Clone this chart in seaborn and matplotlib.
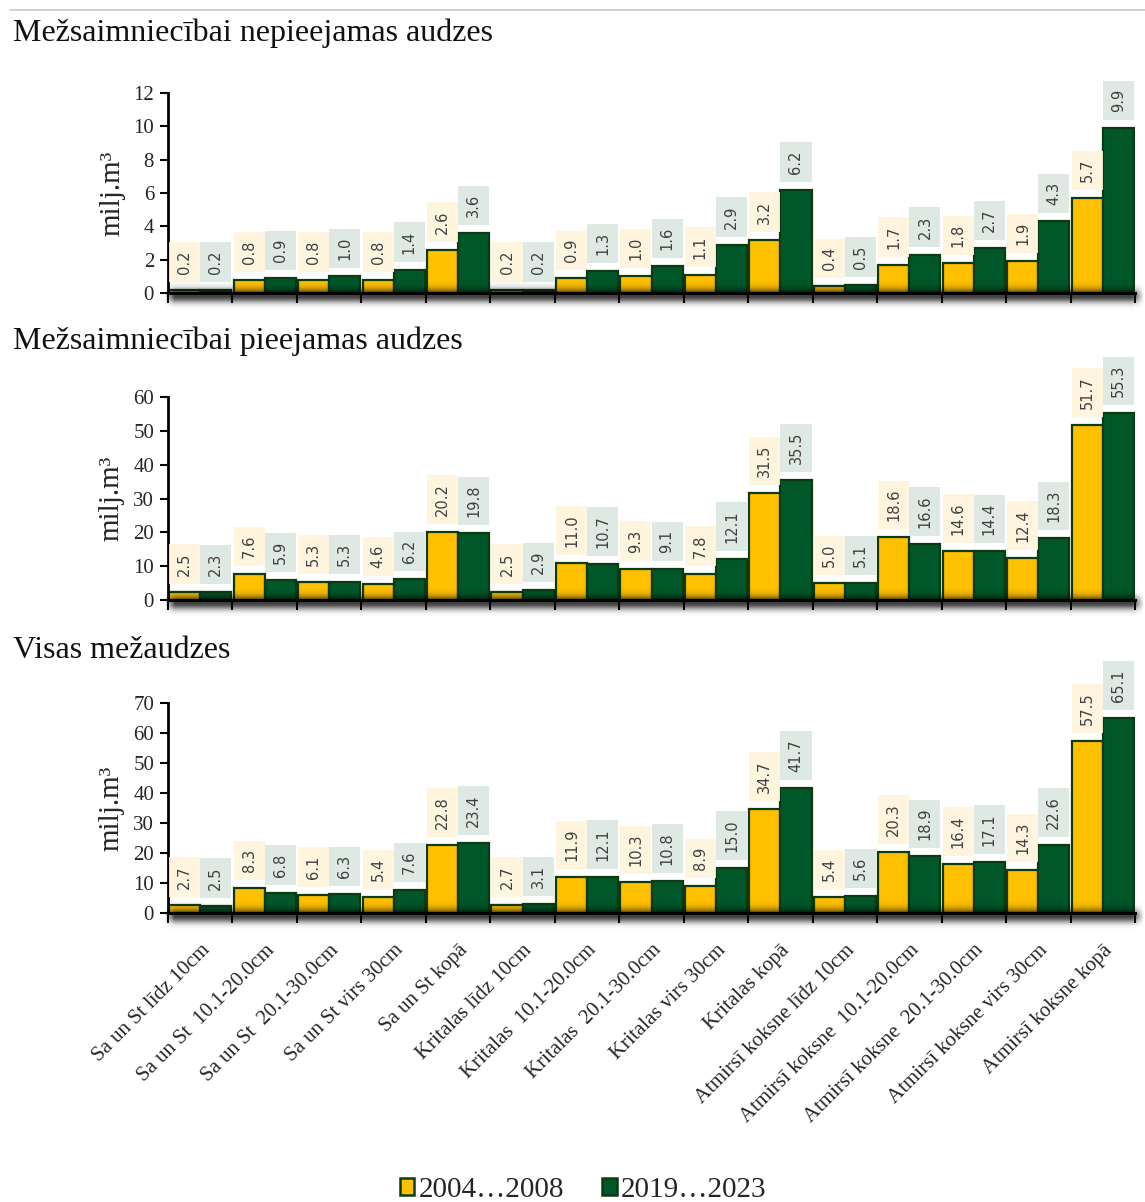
import numpy as np
import pandas as pd
import matplotlib
matplotlib.use("Agg")
import matplotlib.pyplot as plt
import seaborn as sns
from matplotlib.patches import Patch
from matplotlib.lines import Line2D

sns.set_theme(style="white")
plt.rcParams['font.family'] = ['Liberation Serif', 'DejaVu Serif']

categories = ["Sa un St līdz 10cm", "Sa un St  10.1-20.0cm", "Sa un St  20.1-30.0cm",
              "Sa un St virs 30cm", "Sa un St kopā", "Kritalas līdz 10cm",
              "Kritalas  10.1-20.0cm", "Kritalas  20.1-30.0cm", "Kritalas virs 30cm",
              "Kritalas kopā", "Atmirsī koksne līdz 10cm", "Atmirsī koksne  10.1-20.0cm",
              "Atmirsī koksne  20.1-30.0cm", "Atmirsī koksne virs 30cm", "Atmirsī koksne kopā"]
series_names = ["2004…2008", "2019…2023"]

titles = ["Mežsaimniecībai nepieejamas audzes",
          "Mežsaimniecībai pieejamas audzes",
          "Visas mežaudzes"]

nepieejamas_2004 = [0.2, 0.8, 0.8, 0.8, 2.6, 0.2, 0.9, 1.0, 1.1, 3.2, 0.4, 1.7, 1.8, 1.9, 5.7]
nepieejamas_2019 = [0.2, 0.9, 1.0, 1.4, 3.6, 0.2, 1.3, 1.6, 2.9, 6.2, 0.5, 2.3, 2.7, 4.3, 9.9]
pieejamas_2004 = [2.5, 7.6, 5.3, 4.6, 20.2, 2.5, 11.0, 9.3, 7.8, 31.5, 5.0, 18.6, 14.6, 12.4, 51.7]
pieejamas_2019 = [2.3, 5.9, 5.3, 6.2, 19.8, 2.9, 10.7, 9.1, 12.1, 35.5, 5.1, 16.6, 14.4, 18.3, 55.3]
visas_2004 = [2.7, 8.3, 6.1, 5.4, 22.8, 2.7, 11.9, 10.3, 8.9, 34.7, 5.4, 20.3, 16.4, 14.3, 57.5]
visas_2019 = [2.5, 6.8, 6.3, 7.6, 23.4, 3.1, 12.1, 10.8, 15.0, 41.7, 5.6, 18.9, 17.1, 22.6, 65.1]

ymax = [12, 60, 70]
ystep = [2, 10, 10]

panels = [(nepieejamas_2004, nepieejamas_2019),
          (pieejamas_2004, pieejamas_2019),
          (visas_2004, visas_2019)]

col_y = "#FFC000"
col_g = "#00572A"
edge = "#0E3A12"
box_y = "#FFF4DC"
box_g = "#DCE7E0"

W, H = 1145, 1202
fig = plt.figure(figsize=(W / 100, H / 100), dpi=100)

left_px, right_px = 168, 1135
tops = [93, 397, 703]
bottoms = [293, 600, 913]
title_y = [33, 341, 650]

fig.add_artist(Line2D([10 / W, 1.0], [1 - 10 / H, 1 - 10 / H], color="#C8C8C8", lw=1.2))

for i, (a, b) in enumerate(panels):
    ax = fig.add_axes([left_px / W, 1 - bottoms[i] / H,
                       (right_px - left_px) / W, (bottoms[i] - tops[i]) / H])
    df = pd.DataFrame({
        "cat": categories * 2,
        "series": [series_names[0]] * len(categories) + [series_names[1]] * len(categories),
        "val": list(a) + list(b),
    })
    sns.barplot(data=df, x="cat", y="val", hue="series", order=categories,
                hue_order=series_names, palette=[col_y, col_g], width=0.965,
                edgecolor=edge, linewidth=1.6, saturation=1, ax=ax, legend=False,
                errorbar=None, zorder=2)
    ax.set_xlim(-0.5, len(categories) - 0.5)
    ax.set_ylim(0, ymax[i])
    ax.set_yticks(np.arange(0, ymax[i] + 0.1, ystep[i]))
    ax.tick_params(axis="y", labelsize=15, length=6, width=1.5, color="black",
                   direction="out", pad=4, left=True)
    for s in ["top", "right"]:
        ax.spines[s].set_visible(False)
    ax.spines["left"].set_color("black")
    ax.spines["left"].set_linewidth(2)
    ax.spines["bottom"].set_color("black")
    ax.spines["bottom"].set_linewidth(2.2)
    ax.set_ylabel("milj.m³", fontsize=21, labelpad=6)
    ax.set_xlabel("")
    ax.grid(False)

    ax.set_xticks(np.arange(-0.5, len(categories), 1.0), minor=True)
    ax.tick_params(axis="x", which="minor", length=7, width=1.5, color="black",
                   direction="out", bottom=True)
    ax.tick_params(axis="x", which="major", length=0)
    ax.set_xticks(range(len(categories)))
    if i == 2:
        ax.set_xticklabels(categories, rotation=45, ha="right",
                           rotation_mode="anchor", fontsize=15)
        ax.tick_params(axis="x", which="major", pad=20)
    else:
        ax.set_xticklabels([])

    for cont, bc in zip(ax.containers, [box_y, box_g]):
        for rect in cont:
            h = rect.get_height()
            ax.annotate(f"{h:.1f}", (rect.get_x() + rect.get_width() / 2, h),
                        xytext=(0, 11.5), textcoords="offset points",
                        rotation=90, ha="center", va="bottom", fontsize=10.5,
                        color="#404040", family="DejaVu Sans", zorder=3,
                        bbox=dict(boxstyle="square,pad=0.55", fc=bc, ec="none", alpha=0.9),
                        annotation_clip=False)

    fig.text(13 / W, 1 - title_y[i] / H, titles[i], fontsize=23, ha="left",
             va="center", color="#111111")

    # soft shadow around / under the x axis
    sh_h = 34
    sax = fig.add_axes([(left_px - 4) / W, 1 - (bottoms[i] + 20) / H,
                        (W - left_px + 4) / W, sh_h / H], zorder=5)
    sax.set_axis_off()
    ny = sh_h * 2
    yy = np.linspace(1, -1, ny)[:, None]   # top (+1) to bottom (-1)
    xx = np.linspace(0, 1, 500)[None, :]
    # axis at about (20/34) from bottom -> y = 2*20/34-1
    y_axis = 2 * 20 / sh_h - 1
    d = yy - (y_axis - 0.18)
    prof = np.where(d > 0, np.exp(-(d / 0.42) ** 2), np.exp(-(d / 0.38) ** 2))
    xf = np.clip(xx / 0.01, 0, 1) * np.clip((1 - xx) / 0.012, 0, 1)
    alpha = 0.75 * prof * xf
    img = np.zeros((ny, 500, 4))
    img[..., 3] = alpha
    sax.imshow(img, aspect="auto", extent=(0, 1, 0, 1), interpolation="bilinear")

handles = [Patch(facecolor=col_y, edgecolor=edge, linewidth=1.8, label=series_names[0]),
           Patch(facecolor=col_g, edgecolor=edge, linewidth=1.8, label=series_names[1])]
fig.legend(handles=handles, loc="center", bbox_to_anchor=(583 / W, 1 - 1190 / H),
           ncol=2, frameon=False, fontsize=21, handlelength=0.5, handleheight=0.55,
           handletextpad=0.15, columnspacing=1.3)

fig.savefig("out.png", dpi=100, facecolor="white")
